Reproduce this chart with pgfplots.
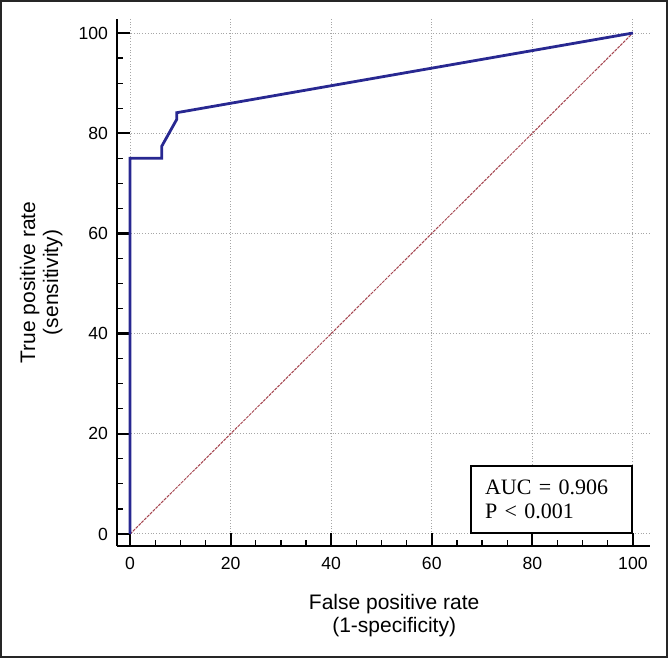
\documentclass[border=0pt]{standalone}
\usepackage{pgfplots}
\pgfplotsset{compat=1.18}
\usepackage{fontspec}
\setmainfont{Liberation Sans}
\newfontfamily\seriffont{Liberation Serif}
\definecolor{roc}{RGB}{40,40,145}
\definecolor{diag}{RGB}{165,70,80}
\begin{document}
\begin{tikzpicture}
\begin{axis}[name=ax, scale only axis, width=266.5pt, height=263.5pt,
  xmin=-2.6, xmax=103.4, ymin=-2.4, ymax=102.8,
  axis lines=left, axis line style={line width=1.4pt, -},
  xtick={0,20,...,100}, ytick={0,20,...,100}, minor tick num=3,
  tick align=inside, major tick length=6.5pt, minor tick length=3pt,
  every major tick/.style={line width=1.1pt, black},
  every minor tick/.style={line width=0.6pt, black},
  grid=major, major grid style={densely dotted, gray!70, line width=0.5pt},
  /pgf/number format/assume math mode=true,
  tick label style={font=\fontsize{8.8}{10}\selectfont},
  xticklabel style={yshift=-2pt},
  yticklabel style={xshift=-1pt},
  xlabel={False positive rate\\(1-specificity)},
  ylabel={True positive rate\\(sensitivity)},
  xlabel style={align=center, font=\fontsize{10.5}{11.5}\selectfont, inner sep=0pt,
    at={(axis description cs:0.52,0)}, anchor=north, yshift=-24pt},
  ylabel style={align=center, font=\fontsize{10.5}{11.5}\selectfont, inner sep=0pt,
    at={(axis description cs:0,0.5)}, anchor=south, yshift=27pt},
]
\addplot[diag, line width=0.5pt, dash pattern=on 1.5pt off 0.5pt] coordinates {(0,0) (100,100)};
\addplot[roc, line width=1.4pt] coordinates {(0,0) (0,75) (6.3,75) (6.3,77.4) (9.3,82.8) (9.3,84.1) (100,100)};
\node[draw, line width=0.8pt, anchor=south east, fill=white, minimum width=80.5pt,
  minimum height=33.5pt, align=left, text width=66.5pt, inner xsep=7pt,
  font=\seriffont\fontsize{11}{12}\selectfont] at (axis cs:100,0) {AUC = 0.906\\P < 0.001};
\end{axis}
\draw[line width=1pt, black!85] ([shift={(-58pt,-55.5pt)}]ax.south west) rectangle ([shift={(275pt,272.5pt)}]ax.south west);
\end{tikzpicture}
\end{document}
